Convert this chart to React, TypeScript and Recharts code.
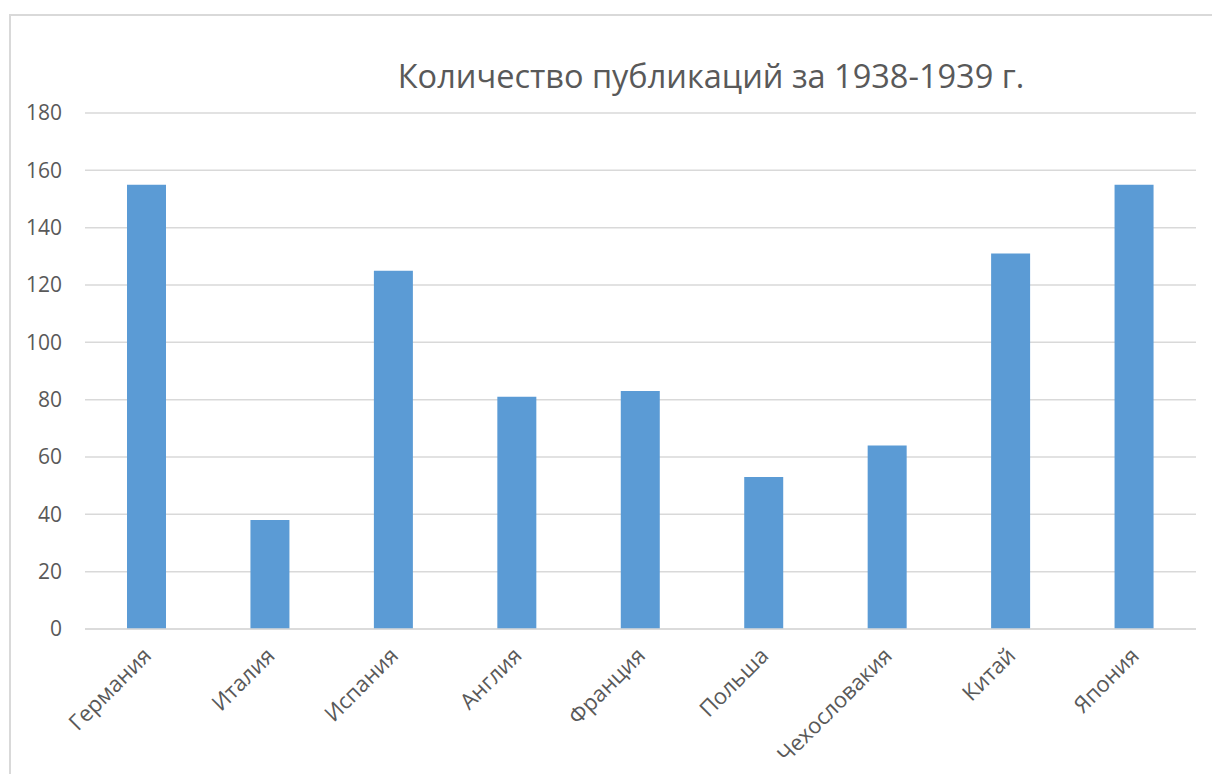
import { BarChart, Bar, XAxis, YAxis, CartesianGrid } from "recharts";

const countries = ["Германия", "Италия", "Испания", "Англия", "Франция", "Польша", "Чехословакия", "Китай", "Япония"];
const publications = [155, 38, 125, 81, 83, 53, 64, 131, 155];
const yTicks = [0, 20, 40, 60, 80, 100, 120, 140, 160, 180];

const chartData = countries.map((c, i) => ({ country: c, count: publications[i] }));

const FONT = "'Open Sans', 'Noto Sans', sans-serif";
const TEXT = "#595959";

function CountryTick({ x, y, payload }: any) {
  return (
    <text
      x={x + 6}
      y={y + 20}
      transform={`rotate(-45, ${x + 6}, ${y + 20})`}
      textAnchor="end"
      fontSize={22}
      fontFamily={FONT}
      fill={TEXT}
    >
      {payload.value}
    </text>
  );
}

export default function App() {
  return (
    <div style={{ position: "absolute", left: 0, top: 0, width: 1212, height: 774, overflow: "hidden", background: "#fff" }}>
      <div style={{ position: "absolute", left: 9, top: 14, width: 1300, height: 900, border: "2px solid #d9d9d9" }} />
      <div style={{ position: "absolute", left: 0, top: 53, width: 1422, textAlign: "center", fontFamily: FONT, fontSize: 32.5, color: TEXT, whiteSpace: "nowrap" }}>
        Количество публикаций за 1938-1939 г.
      </div>
      <div style={{ position: "absolute", left: 0, top: 0 }}>
        <BarChart width={1212} height={774} data={chartData} margin={{ top: 113, right: 16, bottom: 25, left: 25 }} barSize={39}>
          <CartesianGrid vertical={false} stroke="#d9d9d9" strokeWidth={1.5} />
          <XAxis dataKey="country" interval={0} height={120} axisLine={{ stroke: "#d9d9d9", strokeWidth: 1.5 }} tickLine={false} tick={<CountryTick />} />
          <YAxis domain={[0, 180]} ticks={yTicks} width={60} axisLine={false} tickLine={false} tickSize={0} tickMargin={23}
            tick={{ fontSize: 21, fontFamily: FONT, fill: TEXT }} />
          <Bar dataKey="count" fill="#5b9bd5" isAnimationActive={false} />
        </BarChart>
      </div>
    </div>
  );
}
